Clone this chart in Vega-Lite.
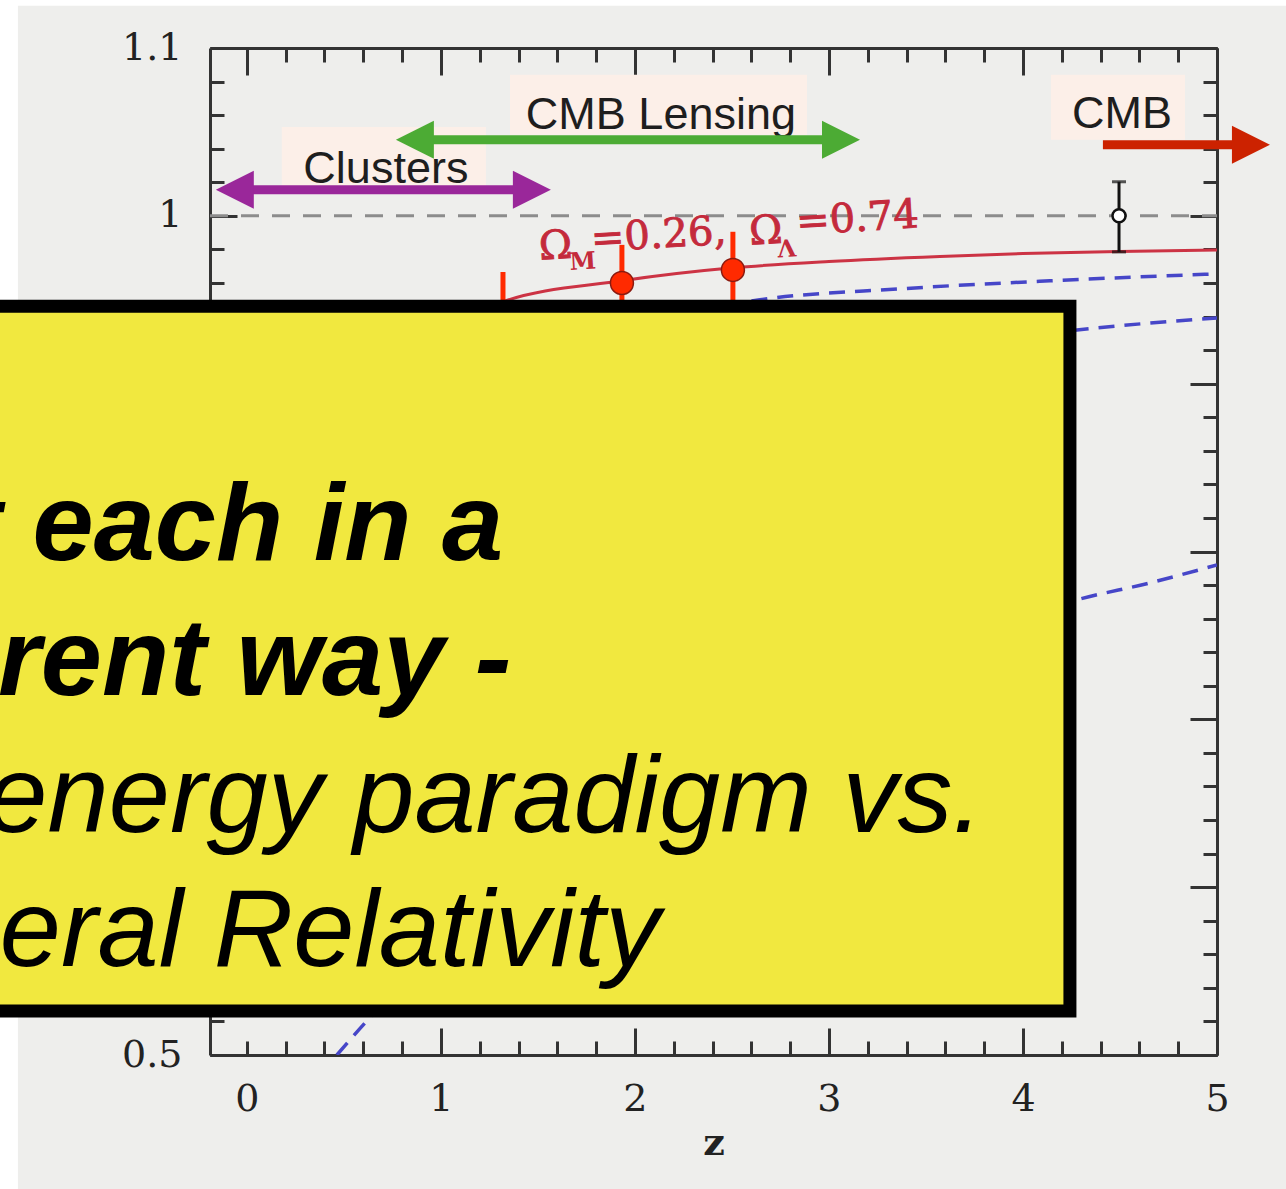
{
  "$schema": "https://vega.github.io/schema/vega-lite/v6.json",
  "width": 1007,
  "height": 1007,
  "autosize": {"type": "none"},
  "padding": {"left": 210, "top": 48, "right": 69, "bottom": 134},
  "background": "#eeeeec",
  "config": {
    "view": {"stroke": null},
    "axis": {
      "grid": false,
      "domainColor": "#333333",
      "domainWidth": 3,
      "tickColor": "#333333",
      "tickWidth": 3,
      "labelFont": "DejaVu Serif",
      "labelFontSize": 38,
      "labelColor": "#222222",
      "titleFont": "DejaVu Serif",
      "titleFontSize": 38,
      "titleFontWeight": "bold",
      "titleColor": "#222222",
      "labelFlush": false,
      "labelOverlap": false
    }
  },
  "datasets": {
    "frame": [
      {"z": -1.5, "z2": -1.18, "v": 1.2, "v2": 0.3},
      {"z": -1.5, "z2": 6, "v": 1.2, "v2": 1.1251}
    ],
    "tagBoxes": [
      {"z": 0.18, "z2": 1.232, "v": 1.053, "v2": 1.0173},
      {"z": 1.356, "z2": 2.887, "v": 1.084, "v2": 1.0483},
      {"z": 4.144, "z2": 4.835, "v": 1.084, "v2": 1.0453}
    ],
    "tagText": [
      {"label": "Clusters", "z": 0.7165, "v": 1.0197},
      {"label": "CMB Lensing", "z": 2.134, "v": 1.0518},
      {"label": "CMB", "z": 4.51, "v": 1.0524}
    ],
    "arrows": [
      {"arrow": "Clusters", "z": -0.06, "z2": 1.469, "v": 1.0155},
      {"arrow": "CMB Lensing", "z": 0.866, "z2": 3.062, "v": 1.0453},
      {"arrow": "CMB", "z": 4.412, "z2": 5.175, "v": 1.0423}
    ],
    "heads": [
      {"arrow": "Clusters", "dir": "left", "z": -0.062, "v": 1.0155},
      {"arrow": "Clusters", "dir": "right", "z": 1.469, "v": 1.0155},
      {"arrow": "CMB Lensing", "dir": "left", "z": 0.866, "v": 1.0453},
      {"arrow": "CMB Lensing", "dir": "right", "z": 3.062, "v": 1.0453},
      {"arrow": "CMB", "dir": "right", "z": 5.175, "v": 1.0423}
    ],
    "unity": [{"z": -0.19, "v": 1}, {"z": 5, "v": 1}],
    "omega": [
      {"t": "Ω", "z": 1.51, "v": 0.9738},
      {"t": "=0.26,", "z": 1.778, "v": 0.9785},
      {"t": "Ω", "z": 2.593, "v": 0.9827},
      {"t": "=0.74", "z": 2.835, "v": 0.9887}
    ],
    "omegaSub": [
      {"t": "M", "z": 1.665, "v": 0.9678},
      {"t": "Λ", "z": 2.737, "v": 0.9752}
    ],
    "lcdm": [
      {"z": 0, "v": 0.78},
      {"z": 0.5, "v": 0.87},
      {"z": 1.0, "v": 0.925},
      {"z": 1.304, "v": 0.9482},
      {"z": 1.933, "v": 0.9613},
      {"z": 2.505, "v": 0.969},
      {"z": 3.0, "v": 0.9728},
      {"z": 3.572, "v": 0.9758},
      {"z": 4.0, "v": 0.9775},
      {"z": 4.495, "v": 0.9787},
      {"z": 5.0, "v": 0.9797}
    ],
    "models": [
      {"model": "A", "z": 0, "v": 0.72},
      {"model": "A", "z": 1.0, "v": 0.89},
      {"model": "A", "z": 2.0, "v": 0.935},
      {"model": "A", "z": 2.644, "v": 0.95},
      {"model": "A", "z": 3.366, "v": 0.9565},
      {"model": "A", "z": 4.139, "v": 0.9613},
      {"model": "A", "z": 5.0, "v": 0.9654},
      {"model": "B", "z": 0, "v": 0.65},
      {"model": "B", "z": 1.0, "v": 0.82},
      {"model": "B", "z": 2.0, "v": 0.88},
      {"model": "B", "z": 3.0, "v": 0.91},
      {"model": "B", "z": 4.278, "v": 0.932},
      {"model": "B", "z": 5.0, "v": 0.9392},
      {"model": "C", "z": 0.464, "v": 0.5},
      {"model": "C", "z": 0.624, "v": 0.521},
      {"model": "C", "z": 1.0, "v": 0.562},
      {"model": "C", "z": 1.5, "v": 0.61},
      {"model": "C", "z": 2.0, "v": 0.65},
      {"model": "C", "z": 2.5, "v": 0.685},
      {"model": "C", "z": 3.0, "v": 0.713},
      {"model": "C", "z": 3.5, "v": 0.738},
      {"model": "C", "z": 4.278, "v": 0.7712},
      {"model": "C", "z": 4.655, "v": 0.7813},
      {"model": "C", "z": 5.0, "v": 0.792}
    ],
    "cmb": [{"z": 4.495, "v": 1.0, "lo": 0.9785, "hi": 1.0203}],
    "growth": [
      {"z": 1.32, "v": 0.922, "lo": 0.877, "hi": 0.9666},
      {"z": 1.933, "v": 0.96, "lo": 0.9373, "hi": 0.9827},
      {"z": 2.505, "v": 0.9678, "lo": 0.9451, "hi": 0.9905}
    ],
    "box": [{"z": -1.5, "z2": 4.242, "v": 0.9461, "v2": 0.5262}],
    "boldText": [
      {"line": "Test each in a", "z": -2.407, "v": 0.795},
      {"line": "different way -", "z": -2.469, "v": 0.7145}
    ],
    "plainText": [
      {"line": "dark energy paradigm vs.", "z": -2.603, "v": 0.6329},
      {"line": "General Relativity", "z": -2.345, "v": 0.553}
    ]
  },
  "encoding": {
    "x": {"field": "z", "type": "quantitative", "scale": {"domain": [-0.19, 5], "nice": false, "zero": false}, "axis": null},
    "y": {"field": "v", "type": "quantitative", "scale": {"domain": [0.5, 1.1], "nice": false, "zero": false}, "axis": null}
  },
  "layer": [
    {
      "data": {"name": "frame"},
      "mark": {"type": "rect", "color": "#ffffff", "clip": false},
      "encoding": {"x2": {"field": "z2"}, "y2": {"field": "v2"}}
    },
    {
      "data": {"name": "tagBoxes"},
      "mark": {"type": "rect", "color": "#fcefe8", "clip": false},
      "encoding": {"x2": {"field": "z2"}, "y2": {"field": "v2"}}
    },
    {
      "data": {"name": "tagText"},
      "mark": {"type": "text", "font": "Liberation Sans", "fontSize": 45, "color": "#1e1e1e", "align": "center", "baseline": "alphabetic", "clip": false},
      "encoding": {"text": {"field": "label", "type": "nominal"}}
    },
    {
      "data": {"name": "arrows"},
      "mark": {"type": "rule", "strokeWidth": 9, "clip": false},
      "encoding": {
        "x2": {"field": "z2"},
        "color": {"field": "arrow", "type": "nominal", "scale": {"domain": ["Clusters", "CMB Lensing", "CMB"], "range": ["#9a279a", "#4cab34", "#cc2200"]}, "legend": null}
      }
    },
    {
      "data": {"name": "heads"},
      "mark": {"type": "point", "filled": true, "opacity": 1, "size": 1444, "clip": false},
      "encoding": {
        "shape": {"field": "dir", "type": "nominal", "scale": {"domain": ["left", "right"], "range": ["M-1,0L1,-1L1,1Z", "M1,0L-1,-1L-1,1Z"]}, "legend": null},
        "color": {"field": "arrow", "type": "nominal", "scale": {"domain": ["Clusters", "CMB Lensing", "CMB"], "range": ["#9a279a", "#4cab34", "#cc2200"]}, "legend": null}
      }
    },
    {
      "data": {"name": "unity"},
      "mark": {"type": "line", "color": "#8c8c8c", "strokeWidth": 3, "strokeDash": [18, 13]},
      "encoding": {
        "x": {"field": "z", "type": "quantitative", "scale": {"domain": [-0.19, 5], "nice": false, "zero": false},
          "axis": {"orient": "bottom", "values": [0, 0.2, 0.4, 0.6, 0.8, 1, 1.2, 1.4, 1.6, 1.8, 2, 2.2, 2.4, 2.6, 2.8, 3, 3.2, 3.4, 3.6, 3.8, 4, 4.2, 4.4, 4.6, 4.8, 5],
            "tickSize": -14, "labelPadding": 39, "labelExpr": "abs(datum.value - round(datum.value)) < 0.001 ? format(datum.value, 'd') : ''", "title": "z", "titlePadding": 6}},
        "y": {"field": "v", "type": "quantitative", "scale": {"domain": [0.5, 1.1], "nice": false, "zero": false},
          "axis": {"orient": "left", "values": [0.5, 0.52, 0.54, 0.56, 0.58, 0.6, 0.62, 0.64, 0.66, 0.68, 0.7, 0.72, 0.74, 0.76, 0.78, 0.8, 0.82, 0.84, 0.86, 0.88, 0.9, 0.92, 0.94, 0.96, 0.98, 1, 1.02, 1.04, 1.06, 1.08, 1.1],
            "tickSize": -14, "labelPadding": 42, "labelExpr": "abs(datum.value * 10 - round(datum.value * 10)) < 0.001 ? format(datum.value, '~g') : ''", "title": null}}
      }
    },
    {
      "data": {"name": "omega"},
      "mark": {"type": "text", "font": "DejaVu Serif", "fontSize": 40, "color": "#c42a3c", "stroke": "#c42a3c", "strokeWidth": 0.9, "align": "left", "baseline": "alphabetic", "angle": 356.5},
      "encoding": {"text": {"field": "t", "type": "nominal"}}
    },
    {
      "data": {"name": "omegaSub"},
      "mark": {"type": "text", "font": "DejaVu Serif", "fontSize": 24, "fontWeight": "bold", "color": "#c42a3c", "align": "left", "baseline": "alphabetic", "angle": 356.5},
      "encoding": {"text": {"field": "t", "type": "nominal"}}
    },
    {
      "data": {"name": "lcdm"},
      "mark": {"type": "line", "color": "#cc3344", "strokeWidth": 3, "interpolate": "monotone"},
      "encoding": {
        "x": {"field": "z", "type": "quantitative", "scale": {"domain": [-0.19, 5], "nice": false, "zero": false},
          "axis": {"orient": "bottom", "values": [1, 2, 3, 4], "tickSize": -27, "labels": false, "domain": false, "title": null}},
        "y": {"field": "v", "type": "quantitative", "scale": {"domain": [0.5, 1.1], "nice": false, "zero": false},
          "axis": {"orient": "left", "values": [0.5, 0.6, 0.7, 0.8, 0.9, 1, 1.1], "tickSize": -27, "labels": false, "domain": false, "title": null}}
      }
    },
    {
      "data": {"name": "models"},
      "mark": {"type": "line", "color": "#4646c8", "strokeWidth": 3.5, "strokeDash": [16, 10], "clip": true, "interpolate": "monotone"},
      "encoding": {
        "detail": {"field": "model", "type": "nominal"},
        "x": {"field": "z", "type": "quantitative", "scale": {"domain": [-0.19, 5], "nice": false, "zero": false},
          "axis": {"orient": "top", "values": [0, 0.2, 0.4, 0.6, 0.8, 1, 1.2, 1.4, 1.6, 1.8, 2, 2.2, 2.4, 2.6, 2.8, 3, 3.2, 3.4, 3.6, 3.8, 4, 4.2, 4.4, 4.6, 4.8, 5],
            "tickSize": -14, "labels": false, "domain": true, "title": null}},
        "y": {"field": "v", "type": "quantitative", "scale": {"domain": [0.5, 1.1], "nice": false, "zero": false},
          "axis": {"orient": "right", "values": [0.5, 0.52, 0.54, 0.56, 0.58, 0.6, 0.62, 0.64, 0.66, 0.68, 0.7, 0.72, 0.74, 0.76, 0.78, 0.8, 0.82, 0.84, 0.86, 0.88, 0.9, 0.92, 0.94, 0.96, 0.98, 1, 1.02, 1.04, 1.06, 1.08, 1.1],
            "tickSize": -14, "labels": false, "domain": true, "title": null}}
      }
    },
    {
      "data": {"name": "cmb"},
      "mark": {"type": "rule", "color": "#111111", "strokeWidth": 3},
      "encoding": {
        "x": {"field": "z", "type": "quantitative", "scale": {"domain": [-0.19, 5], "nice": false, "zero": false},
          "axis": {"orient": "top", "values": [0, 1, 2, 3, 4], "tickSize": -27, "labels": false, "domain": false, "title": null}},
        "y": {"field": "lo", "type": "quantitative", "scale": {"domain": [0.5, 1.1], "nice": false, "zero": false},
          "axis": {"orient": "right", "values": [0.5, 0.6, 0.7, 0.8, 0.9, 1, 1.1], "tickSize": -27, "labels": false, "domain": false, "title": null}},
        "y2": {"field": "hi"}
      }
    },
    {
      "data": {"name": "cmb"},
      "transform": [{"fold": ["lo", "hi"], "as": ["end", "val"]}],
      "mark": {"type": "tick", "orient": "horizontal", "color": "#111111", "size": 14, "thickness": 3},
      "encoding": {
        "y": {"field": "val", "type": "quantitative", "scale": {"domain": [0.5, 1.1], "nice": false, "zero": false}, "axis": null}
      }
    },
    {
      "data": {"name": "cmb"},
      "mark": {"type": "point", "filled": true, "fill": "#ffffff", "stroke": "#111111", "strokeWidth": 2.5, "size": 170, "opacity": 1}
    },
    {
      "data": {"name": "growth"},
      "mark": {"type": "rule", "color": "#ff2a00", "strokeWidth": 5},
      "encoding": {
        "y": {"field": "lo", "type": "quantitative", "scale": {"domain": [0.5, 1.1], "nice": false, "zero": false}, "axis": null},
        "y2": {"field": "hi"}
      }
    },
    {
      "data": {"name": "growth"},
      "mark": {"type": "point", "filled": true, "fill": "#ff2a00", "stroke": "#8a1a10", "strokeWidth": 1.5, "size": 529, "opacity": 1}
    },
    {
      "data": {"name": "box"},
      "mark": {"type": "rect", "fill": "#f1e83f", "stroke": "#000000", "strokeWidth": 13, "clip": false},
      "encoding": {"x2": {"field": "z2"}, "y2": {"field": "v2"}}
    },
    {
      "data": {"name": "boldText"},
      "mark": {"type": "text", "font": "Liberation Sans", "fontSize": 110, "fontStyle": "italic", "fontWeight": "bold", "color": "#000000", "align": "left", "baseline": "alphabetic", "clip": false},
      "encoding": {"text": {"field": "line", "type": "nominal"}}
    },
    {
      "data": {"name": "plainText"},
      "mark": {"type": "text", "font": "Liberation Sans", "fontSize": 110, "fontStyle": "italic", "color": "#000000", "align": "left", "baseline": "alphabetic", "clip": false},
      "encoding": {"text": {"field": "line", "type": "nominal"}}
    }
  ],
  "resolve": {"axis": {"x": "independent", "y": "independent"}}
}
